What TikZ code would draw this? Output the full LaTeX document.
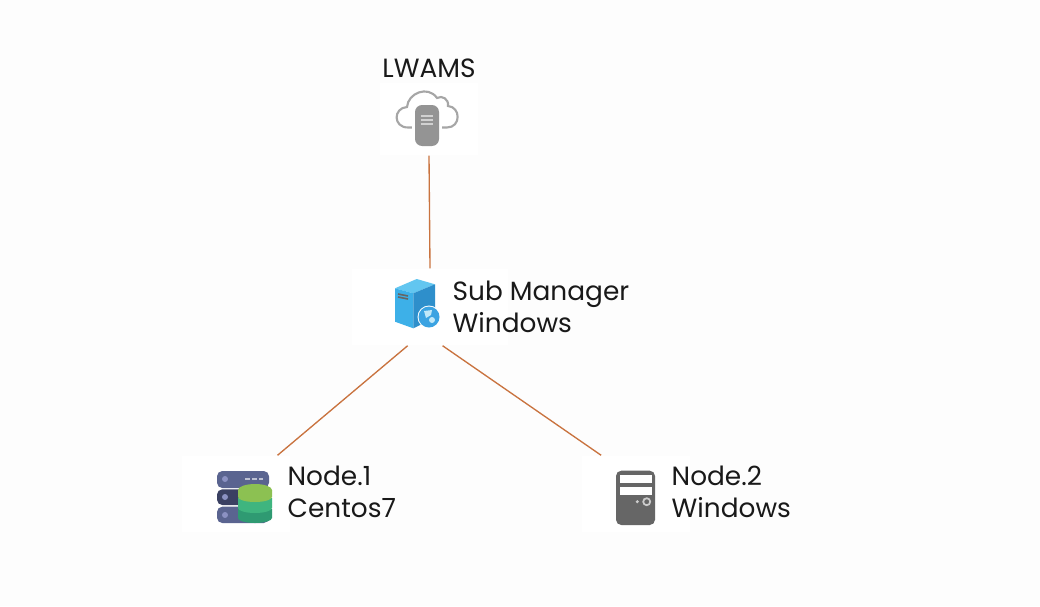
\documentclass[tikz,border=0pt]{standalone}
\usepackage{fontspec}
\setmainfont{Poppins}
\usetikzlibrary{positioning}
\definecolor{linkline}{HTML}{C9733F}
\definecolor{pagebg}{HTML}{FDFDFD}
\definecolor{cloudgray}{HTML}{A6A6A6}
\definecolor{rackblue}{HTML}{5A6490}
\definecolor{rackdark}{HTML}{3A4062}
\definecolor{towergray}{HTML}{666666}
\definecolor{boxtop}{HTML}{62C6F0}
\definecolor{boxfront}{HTML}{3DB0E8}
\definecolor{boxside}{HTML}{2E8FCB}
\definecolor{globeblue}{HTML}{3BA3E2}
\definecolor{dbtop}{HTML}{8CC152}
\definecolor{dbmid}{HTML}{3FB57F}
\definecolor{dblow}{HTML}{2F9A72}
\tikzset{
	iconbox/.style={rectangle,fill=white,inner sep=0pt,minimum width=#1},
	hostlabel/.style={align=left,anchor=west,inner sep=0pt,font=\fontsize{7.5}{9.1}\selectfont,text=black!90},
	link/.style={linkline,line width=0.38pt}
}
\begin{document}
\begin{tikzpicture}[x=0.01cm,y=-0.01cm]
	\useasboundingbox (0,0) rectangle (1040,606);
	\fill[pagebg] (0,0) rectangle (1040,606);
	
	% Hosts
	\node[iconbox=0.97cm,minimum height=0.72cm] (lwams) at (429,119) {};
	\node[iconbox=1.56cm,minimum height=0.76cm] (sub) at (430,307) {};
	\node[iconbox=1.07cm,minimum height=0.76cm] (node1) at (236,494) {};
	\node[iconbox=1.07cm,minimum height=0.76cm] (node2) at (636,494) {};
	
	% Connectors
	\draw[link] (lwams.south) -- (sub.north);
	\draw[link] (sub.-120) -- (node1.43.5);
	\draw[link] (sub.-72.5) -- (node2.132.6);
	
	% Cloud
	\draw[cloudgray,line width=0.6pt,line cap=round]
		(415,127.5) -- (408,127.5) .. controls (393,127.5) and (393,108) .. (407,107)
		.. controls (408,93) and (428,85) .. (437,98)
		.. controls (442,95) and (449,99) .. (448,106)
		.. controls (461,107) and (461,127.5) .. (447,127.5) -- (439,127.5);
	\fill[white] (412,102) rectangle (442,148);
	\fill[black!42,rounded corners=2pt] (415,105) rectangle (439,146);
	\foreach \y in {116,120,124}
		\draw[black!18,line width=0.4pt] (420.5,\y) -- (432.5,\y);
	
	% Server with globe
	\fill[boxtop] (395,288.3) -- (416.7,279) -- (435,284.3) -- (413.3,293.3) -- cycle;
	\fill[boxfront] (395,288.3) -- (413.3,293.3) -- (413.3,328.3) -- (395,321.7) -- cycle;
	\fill[boxside] (413.3,293.3) -- (435,284.3) -- (435,318) -- (413.3,328.3) -- cycle;
	\foreach \y in {295,298}
		\draw[black!60,line width=0.45pt] (398,\y-1) -- (408,\y+1);
	\fill[white] (429,317) circle (11.5);
	\fill[globeblue] (429,317) circle (10.5);
	\fill[boxtop!40!white] (424,311) -- (432,310) -- (431,315) -- (426,318) -- cycle;
	\fill[boxtop!40!white] (432,320) circle (3);
	
	% Rack with database
	\fill[rackblue,rounded corners=1.5pt] (217,471) rectangle (269,488);
	\fill[rackdark,rounded corners=1.5pt] (217,489.3) rectangle (269,505);
	\fill[rackblue,rounded corners=1.5pt] (217,506.7) rectangle (269,523);
	\foreach \y in {479,497,515}
		\fill[blue!15!rackblue!65!white] (225,\y) circle (3);
	\draw[rackblue!40!white,line width=0.5pt,dash pattern=on 1.5pt off 0.5pt] (245,479) -- (263,479);
	\fill[dblow] (238,509) -- (238,518) arc[start angle=180,end angle=0,x radius=17,y radius=5] -- (272,509) -- cycle;
	\fill[dbmid] (238,498) -- (238,508) arc[start angle=180,end angle=0,x radius=17,y radius=5] -- (272,498) -- cycle;
	\fill[dbtop] (238,490) -- (238,497) arc[start angle=180,end angle=0,x radius=17,y radius=5] -- (272,490) -- cycle;
	\fill[dbtop] (255,490) ellipse (17 and 6);
	
	% Tower
	\fill[towergray,rounded corners=1.5pt] (616,470.7) rectangle (655,525);
	\fill[white] (620,475) rectangle (651.7,483.3);
	\fill[white] (620,487.3) rectangle (651.7,495);
	\draw[black!20,line width=0.5pt] (646.7,501.7) circle (3.5);
	\fill[black!20] (637.3,501.7) circle (1.7);
	
	% Labels
	\node[above=1pt of lwams,inner sep=0pt,font=\fontsize{7.5}{9.1}\selectfont,text=black!90] (lwamslabel) {LWAMS};
	\node[hostlabel] (sublabel) at (452,307) {Sub Manager\\Windows};
	\node[hostlabel] (node1label) at (287,492) {Node.1\\Centos7};
	\node[hostlabel] (node2label) at (671,492) {Node.2\\Windows};
\end{tikzpicture}
\end{document}
